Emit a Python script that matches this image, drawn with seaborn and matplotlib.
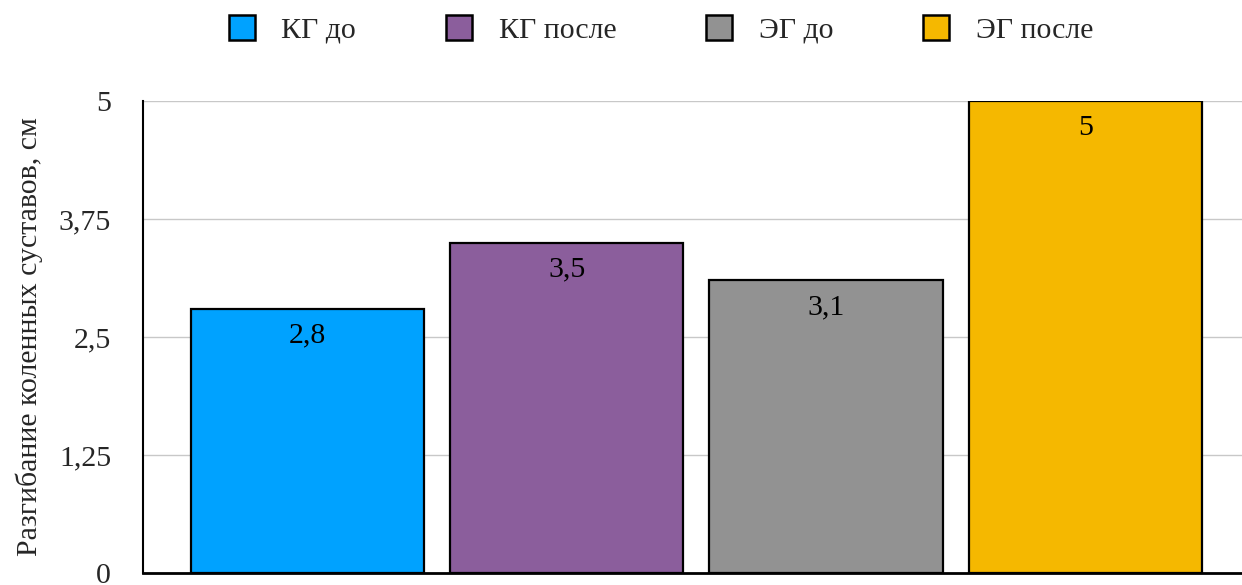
import matplotlib
matplotlib.use("Agg")
import matplotlib.pyplot as plt
from matplotlib.patches import Patch
from matplotlib.ticker import FuncFormatter
import seaborn as sns
import pandas as pd

# Data
groups = ["КГ до", "КГ после", "ЭГ до", "ЭГ после"]
values = [2.8, 3.5, 3.1, 5.0]
value_labels = ["2,8", "3,5", "3,1", "5"]
colors = ["#00A2FF", "#8B5E9C", "#929292", "#F5B800"]
y_ticks = [0, 1.25, 2.5, 3.75, 5]
y_label = "Разгибание коленных суставов, см"

FS = 21.5

sns.set_theme(style="white")
plt.rcParams["font.family"] = ["Liberation Serif", "DejaVu Serif"]

df = pd.DataFrame({"group": groups, "value": values})

fig = plt.figure(figsize=(12.42, 5.85), dpi=100)
ax = fig.add_axes([0.1151, 0.0205, 0.8849, 0.8069])

sns.barplot(data=df, x="group", y="value", hue="group", palette=colors,
            width=0.9, edgecolor="black", linewidth=1.6, legend=False,
            saturation=1, ax=ax, zorder=3)

ax.set_xlim(-0.634, 3.604)
ax.set_ylim(0, 5)
ax.set_yticks(y_ticks)
ax.yaxis.set_major_formatter(FuncFormatter(
    lambda v, _: ("%g" % v).replace(".", ",")))
ax.tick_params(axis="y", labelsize=FS, length=0, pad=23)
ax.set_xticks([])
ax.set_xlabel("")
ax.set_ylabel(y_label, fontsize=FS, labelpad=11)

ax.grid(axis="y", color="#c8c8c8", linewidth=1.0, zorder=0)
for side in ["top", "right"]:
    ax.spines[side].set_visible(False)
ax.spines["left"].set_color("black")
ax.spines["left"].set_linewidth(1.5)
ax.spines["bottom"].set_color("black")
ax.spines["bottom"].set_linewidth(2.0)
ax.spines["bottom"].set_zorder(4)

for i, (v, lab) in enumerate(zip(values, value_labels)):
    ax.annotate(lab, (i, v), xytext=(0, -10), textcoords="offset points",
                ha="center", va="top", fontsize=FS, color="black", zorder=5)

handles = [Patch(facecolor=c, edgecolor="black", linewidth=1.8) for c in colors]
fig.legend(handles, groups, loc="center", bbox_to_anchor=(0.532, 0.950),
           ncol=4, frameon=False, fontsize=FS, handlelength=0.87,
           handleheight=0.93, handletextpad=0.9, columnspacing=3.0)

fig.savefig("out.png", dpi=100)
